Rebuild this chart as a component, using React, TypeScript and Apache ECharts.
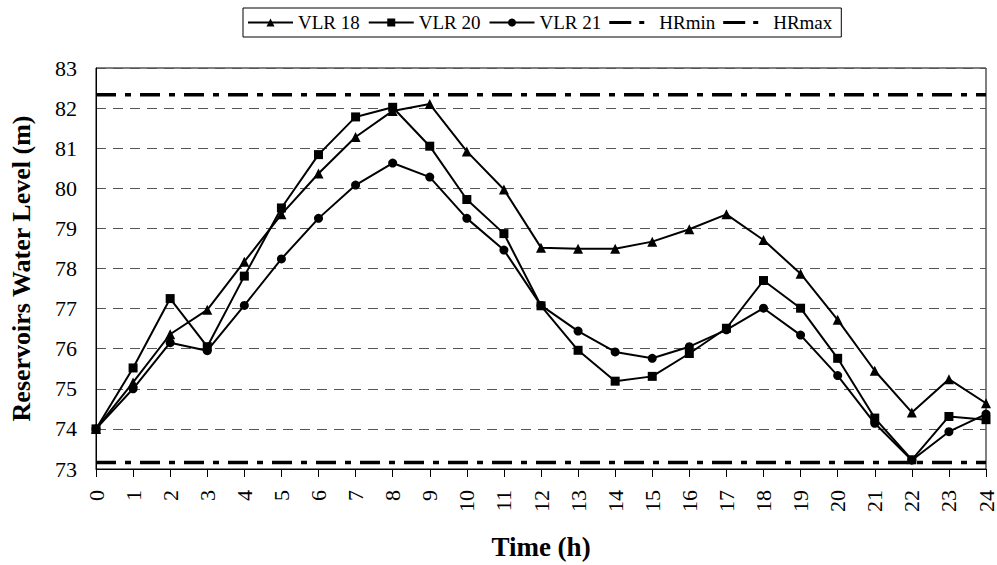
import React, { useEffect, useRef } from "react";
import * as echarts from "echarts";

const hours = [0,1,2,3,4,5,6,7,8,9,10,11,12,13,14,15,16,17,18,19,20,21,22,23,24];
const vlr18 = [74.0,75.16,76.36,76.97,78.17,79.35,80.37,81.28,81.93,82.1,80.92,79.97,78.52,78.49,78.49,78.67,78.98,79.35,78.71,77.87,76.72,75.45,74.41,75.24,74.64];
const vlr20 = [74.0,75.52,77.25,76.05,77.81,79.51,80.84,81.78,82.02,81.05,79.72,78.87,77.07,75.96,75.19,75.31,75.88,76.51,77.7,77.01,75.76,74.27,73.23,74.31,74.23];
const vlr21 = [74.0,75.0,76.15,75.95,77.08,78.24,79.25,80.08,80.63,80.28,79.25,78.46,77.08,76.44,75.92,75.76,76.05,76.47,77.01,76.34,75.33,74.14,73.22,73.93,74.37];
const hrMin = 73.16;
const hrMax = 82.33;
const yTicks = { min: 73, max: 83, interval: 1 };

const FONT = "Liberation Serif, Times New Roman, serif";
const HR_ICON = "path://M0,0L0,0M45,10L45,10M0,3.5h22v3h-22zM30,3.5h5v3h-5z";

export default function App() {
  const ref = useRef<HTMLDivElement>(null);
  useEffect(() => {
    if (!ref.current) return;
    const chart = echarts.init(ref.current, null, { renderer: "svg" });
    const pts = (arr: number[]) => arr.map((v, i) => [hours[i], v]);
    const lineBase = {
      type: "line",
      color: "#000",
      lineStyle: { color: "#000", width: 2 },
      itemStyle: { color: "#000" },
      showSymbol: true,
    };
    const hrStyle = { color: "#000", width: 3.5, type: [20, 9, 6, 9] };
    chart.setOption({
      animation: false,
      textStyle: { fontFamily: FONT },
      legend: {
        top: 8,
        left: 243,
        borderColor: "#000",
        borderWidth: 1,
        padding: [5, 9, 5, 4],
        itemGap: 8,
        itemWidth: 45,
        itemHeight: 10,
        textStyle: { fontFamily: FONT, fontSize: 19, color: "#000" },
        data: [
          "VLR 18",
          "VLR 20",
          "VLR 21",
          { name: "HRmin", icon: HR_ICON, itemStyle: { color: "#000", borderWidth: 0 } },
          { name: "HRmax", icon: HR_ICON, itemStyle: { color: "#000", borderWidth: 0 } },
        ],
      },
      grid: {
        left: 95,
        right: 10,
        top: 68,
        bottom: 93,
        show: true,
        borderColor: "#000",
        borderWidth: 1,
        backgroundColor: "transparent",
      },
      xAxis: {
        type: "value",
        min: 0,
        max: 24,
        interval: 1,
        name: "Time (h)",
        nameLocation: "middle",
        nameGap: 64,
        nameTextStyle: { fontFamily: FONT, fontSize: 27, fontWeight: "bold", color: "#000" },
        axisLine: { lineStyle: { color: "#000", width: 1 } },
        axisTick: { show: true, length: 8, lineStyle: { color: "#000" } },
        axisLabel: { rotate: 90, fontFamily: FONT, fontSize: 22, color: "#000", margin: 21 },
        splitLine: { show: false },
      },
      yAxis: {
        type: "value",
        min: yTicks.min,
        max: yTicks.max,
        interval: yTicks.interval,
        name: "Reservoirs Water Level (m)",
        nameLocation: "middle",
        nameGap: 62,
        nameTextStyle: { fontFamily: FONT, fontSize: 26, fontWeight: "bold", color: "#000" },
        axisLine: { show: true, lineStyle: { color: "#000", width: 1 } },
        axisTick: { show: false },
        axisLabel: { fontFamily: FONT, fontSize: 22, color: "#000", margin: 19 },
        splitLine: { show: true, lineStyle: { color: "#555", width: 1, type: [10, 7] } },
      },
      series: [
        { ...lineBase, name: "VLR 18", data: pts(vlr18), symbol: "triangle", symbolSize: 10, z: 3 },
        { ...lineBase, name: "VLR 20", data: pts(vlr20), symbol: "rect", symbolSize: 9, z: 3 },
        { ...lineBase, name: "VLR 21", data: pts(vlr21), symbol: "circle", symbolSize: 9, z: 3 },
        {
          type: "line", name: "HRmin", data: [[0, hrMin], [24, hrMin]], symbol: "none",
          color: "#000", itemStyle: { color: "#000" }, lineStyle: hrStyle, z: 2,
        },
        {
          type: "line", name: "HRmax", data: [[0, hrMax], [24, hrMax]], symbol: "none",
          color: "#000", itemStyle: { color: "#000" }, lineStyle: hrStyle, z: 2,
        },
      ],
    });
    return () => chart.dispose();
  }, []);
  return <div ref={ref} style={{ width: 997, height: 565, position: "absolute", left: 0, top: 0 }} />;
}
